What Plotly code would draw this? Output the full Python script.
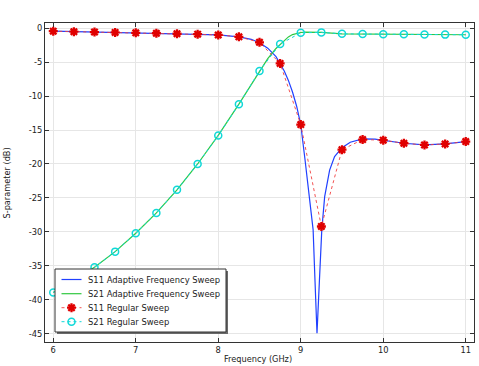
import plotly.graph_objects as go

# Regular sweep frequencies (GHz)
f_reg = [6.0, 6.25, 6.5, 6.75, 7.0, 7.25, 7.5, 7.75, 8.0, 8.25, 8.5, 8.75,
         9.0, 9.25, 9.5, 9.75, 10.0, 10.25, 10.5, 10.75, 11.0]
s11_reg = [-0.45, -0.52, -0.58, -0.64, -0.7, -0.76, -0.83, -0.9, -1.0, -1.28, -2.1, -5.2,
           -14.2, -29.2, -17.9, -16.4, -16.5, -16.95, -17.2, -17.05, -16.7]
s21_reg = [-38.9, -37.1, -35.2, -32.9, -30.2, -27.2, -23.8, -20.0, -15.8, -11.2, -6.3, -2.35,
           -0.69, -0.63, -0.84, -0.88, -0.9, -0.92, -0.94, -0.96, -0.98]

# Adaptive sweep
f_s11_ad = [6.0, 6.5, 7.0, 7.5, 8.0, 8.25, 8.4, 8.5, 8.6, 8.7, 8.75, 8.8, 8.85, 8.9, 8.95,
            9.0, 9.05, 9.1, 9.15, 9.17, 9.197, 9.225, 9.255, 9.29, 9.35, 9.41, 9.5, 9.6,
            9.75, 9.9, 10.0, 10.25, 10.5, 10.75, 11.0]
s11_ad = [-0.45, -0.58, -0.7, -0.83, -1.0, -1.3, -1.65, -2.15, -2.95, -4.2, -5.15, -6.3, -7.7,
          -9.4, -11.5, -14.2, -19.2, -24.5, -29.7, -36.3, -44.9, -37.5, -29.7, -24.8, -20.9,
          -18.9, -17.6, -16.8, -16.3, -16.35, -16.5, -16.95, -17.2, -17.05, -16.7]

f_s21_ad = [6.0, 6.25, 6.5, 6.75, 7.0, 7.25, 7.5, 7.75, 8.0, 8.25, 8.5, 8.6, 8.7, 8.75, 8.8,
            8.85, 8.9, 8.95, 9.0, 9.05, 9.15, 9.25, 9.5, 9.75, 10.0, 10.5, 11.0]
s21_ad = [-38.9, -37.1, -35.2, -32.9, -30.2, -27.2, -23.8, -20.0, -15.8, -11.2, -6.3, -4.5,
          -3.0, -2.4, -1.8, -1.3, -0.95, -0.75, -0.65, -0.6, -0.58, -0.63, -0.84, -0.88,
          -0.9, -0.94, -0.98]

x_ticks = [6, 7, 8, 9, 10, 11]
y_ticks = [0, -5, -10, -15, -20, -25, -30, -35, -40, -45]

series_names = ["S11 Adaptive Frequency Sweep", "S21 Adaptive Frequency Sweep",
                "S11 Regular Sweep", "S21 Regular Sweep"]

FONT = "DejaVu Sans"
TXT = "#222222"
W, H = 479, 366
PL, PR, PT, PB = 45, 474, 23, 342          # plot area in pixels
ML, MR, MT, MB = PL, W - PR, PT, H - PB

BLUE, GREEN, RED, CYAN = "#2040ff", "#30c840", "#e00000", "#10d8d8"
RED_LINE = "#f04040"

def px_x(px):
    return (px - PL) / (PR - PL)

def px_y(py):
    return (PB - py) / (PB - PT)

fig = go.Figure()
fig.add_trace(go.Scatter(x=f_s11_ad, y=s11_ad, mode="lines", name=series_names[0],
                         line=dict(color=BLUE, width=1.2), showlegend=False))
fig.add_trace(go.Scatter(x=f_s21_ad, y=s21_ad, mode="lines", name=series_names[1],
                         line=dict(color=GREEN, width=1.2), showlegend=False))
red_marker = dict(symbol="asterisk-open", size=7.5, color=RED, line=dict(color=RED, width=2.3))
cyan_marker = dict(symbol="circle-open", size=7, color=CYAN, line=dict(color=CYAN, width=1.5))
fig.add_trace(go.Scatter(x=f_reg, y=s11_reg, mode="lines+markers", name=series_names[2],
                         line=dict(color=RED_LINE, width=0.9, dash="dot"), marker=red_marker,
                         showlegend=False))
fig.add_trace(go.Scatter(x=f_reg, y=s21_reg, mode="lines+markers", name=series_names[3],
                         line=dict(color=CYAN, width=1, dash="dot"), marker=cyan_marker,
                         showlegend=False))

# ---- custom legend drawn on an overlay pixel-space axis pair ----
box = (55, 226, 269, 332)
shadow_off = 2
row_y = [279.5, 293.7, 307.7, 321.7]
sx0, sx1, smid, tx = 61.5, 81.5, 71.5, 86

def rect(x0, x1, y0, y1):
    return [x0, x1, x1, x0, x0], [y0, y0, y1, y1, y0]

xs, ys = rect(box[0] + shadow_off, box[1] + shadow_off, box[2] + shadow_off, box[3] + shadow_off)
fig.add_trace(go.Scatter(x=xs, y=ys, xaxis="x2", yaxis="y2", mode="lines", fill="toself",
                         fillcolor="#6a6a6a", line=dict(width=0, color="#6a6a6a"),
                         showlegend=False, hoverinfo="skip"))
xs, ys = rect(*box)
fig.add_trace(go.Scatter(x=xs, y=ys, xaxis="x2", yaxis="y2", mode="lines", fill="toself",
                         fillcolor="white", line=dict(width=1, color="#333333"),
                         showlegend=False, hoverinfo="skip"))
styles = [
    dict(line=dict(color=BLUE, width=1.2), marker=None),
    dict(line=dict(color=GREEN, width=1.2), marker=None),
    dict(line=dict(color=RED_LINE, width=0.9, dash="dot"), marker=red_marker),
    dict(line=dict(color=CYAN, width=1, dash="dot"), marker=cyan_marker),
]
annotations = []
for name, yy, st in zip(series_names, row_y, styles):
    fig.add_trace(go.Scatter(x=[sx0, sx1], y=[yy, yy], xaxis="x2", yaxis="y2", mode="lines",
                             line=st["line"], showlegend=False, hoverinfo="skip"))
    if st["marker"] is not None:
        fig.add_trace(go.Scatter(x=[smid], y=[yy], xaxis="x2", yaxis="y2", mode="markers",
                                 marker=st["marker"], showlegend=False, hoverinfo="skip"))
    annotations.append(dict(x=tx, y=yy, xref="x2", yref="y2", text=name, showarrow=False,
                            xanchor="left", yanchor="middle",
                            font=dict(family=FONT, size=8.4, color=TXT)))

# axis titles
annotations.append(dict(x=px_x(258), y=px_y(359), xref="paper", yref="paper",
                        text="Frequency (GHz)", showarrow=False, xanchor="center",
                        yanchor="middle", font=dict(family=FONT, size=8.2, color=TXT)))
annotations.append(dict(x=px_x(6.5), y=px_y(183), xref="paper", yref="paper",
                        text="S-parameter (dB)", showarrow=False, textangle=-90,
                        xanchor="center", yanchor="middle",
                        font=dict(family=FONT, size=8.2, color=TXT)))

axis_common = dict(showline=True, linecolor="#333333", linewidth=1, mirror="allticks",
                   ticks="inside", ticklen=4, tickcolor="#333333",
                   showgrid=True, gridcolor="#e6e6e6", gridwidth=1, zeroline=False,
                   automargin=False,
                   tickfont=dict(family=FONT, size=8.3, color=TXT))

fig.update_layout(
    width=W, height=H,
    margin=dict(l=ML, r=MR, t=MT, b=MB, autoexpand=False),
    plot_bgcolor="white", paper_bgcolor="white",
    font=dict(family=FONT, size=8.3, color=TXT),
    showlegend=False,
    hovermode=False,
    xaxis=dict(range=[5.9, 11.1], tickvals=x_ticks, ticktext=[str(v) for v in x_ticks],
               **axis_common),
    yaxis=dict(range=[-46.2, 0.75], tickvals=y_ticks, ticktext=[str(v) for v in y_ticks],
               **axis_common),
    xaxis2=dict(range=[PL, PR], overlaying="x", visible=False, fixedrange=True),
    yaxis2=dict(range=[PB, PT], overlaying="y", visible=False, fixedrange=True),
    annotations=annotations,
)

fig.write_html("out.html", config={"displayModeBar": False},
               post_script="document.body.style.margin='0';document.body.style.overflow='hidden';")
